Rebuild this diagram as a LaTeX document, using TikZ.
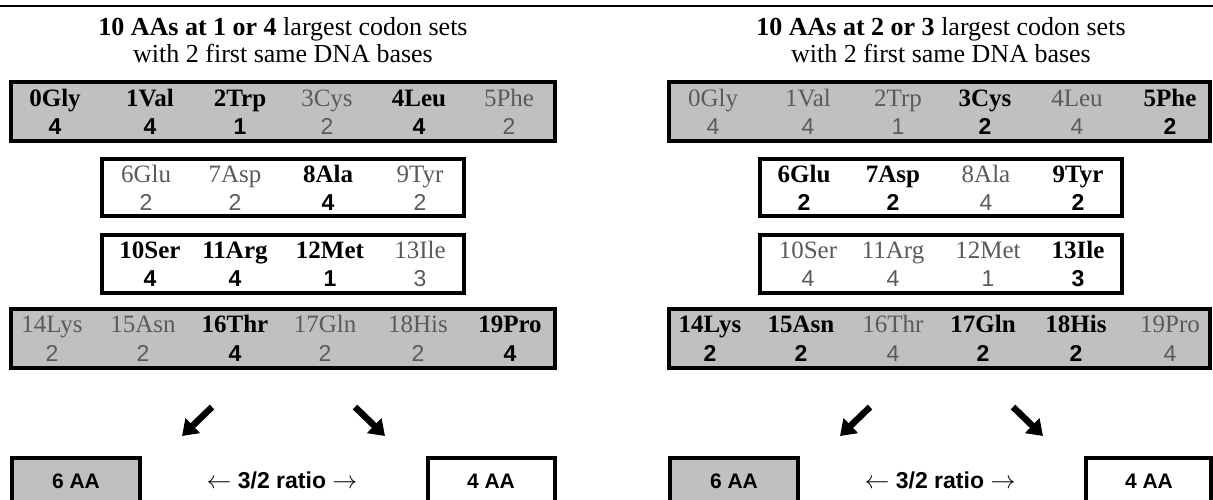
\documentclass[tikz,border=0pt]{standalone}
\usepackage{fontspec}
\setmainfont{Liberation Serif}
\newfontfamily\arialf{Liberation Sans}
\usetikzlibrary{arrows.meta}
\definecolor{boxgray}{RGB}{192,192,192}
\definecolor{dimtext}{RGB}{90,90,90}
\tikzset{
  x=1pt,y=-1pt,
  panelbox/.style={draw=black,line width=4pt},
  graybox/.style={panelbox,fill=boxgray},
  whitebox/.style={panelbox,fill=white},
  txt/.style={anchor=base,inner sep=0pt,outer sep=0pt},
  nmB/.style={txt,font=\fontsize{25}{25}\selectfont\bfseries},
  nmG/.style={txt,text=dimtext,font=\fontsize{25}{25}\selectfont},
  nuB/.style={txt,font=\arialf\fontsize{23}{23}\selectfont\bfseries},
  nuG/.style={txt,text=dimtext,font=\arialf\fontsize{23}{23}\selectfont},
  ttl/.style={txt,font=\fontsize{26}{26}\selectfont},
  bot/.style={txt,font=\arialf\fontsize{21}{21}\selectfont\bfseries},
  ratio/.style={txt,font=\arialf\fontsize{23}{23}\selectfont\bfseries},
  bigarrow/.style={line width=6.5pt,-{Triangle[length=15pt,width=20pt]}},
}
\begin{document}
\begin{tikzpicture}
\useasboundingbox (0,0) rectangle (1213,499);
\clip (0,0) rectangle (1213,499);
\draw[line width=2pt] (0,6) -- (1213,6);
% ---------------- left panel ----------------
\node[ttl] (Lt1) at (283,35) {\textbf{10 AAs at 1 or 4} largest codon sets};
\node[ttl] (Lt2) at (283,62) {with 2 first same DNA bases};
\draw[graybox] (11,82) rectangle (555,141);
\draw[whitebox] (102,159) rectangle (464,216);
\draw[whitebox] (102,235) rectangle (464,293);
\draw[graybox] (11,309) rectangle (555,368);
\foreach \x/\n/\v/\a/\b in {55/0Gly/4/nmB/nuB,150/1Val/4/nmB/nuB,240/2Trp/1/nmB/nuB,327/3Cys/2/nmG/nuG,419/4Leu/4/nmB/nuB,509/5Phe/2/nmG/nuG}{
  \node[\a] (L-\n) at (\x,106) {\n};
  \node[\b] (L-\n-c) at (\x,134) {\v};
}
\foreach \x/\n/\v/\a/\b in {146/6Glu/2/nmG/nuG,235/7Asp/2/nmG/nuG,328/8Ala/4/nmB/nuB,420/9Tyr/2/nmG/nuG}{
  \node[\a] (L-\n) at (\x,182) {\n};
  \node[\b] (L-\n-c) at (\x,210) {\v};
}
\foreach \x/\n/\v/\a/\b in {150/10Ser/4/nmB/nuB,235/11Arg/4/nmB/nuB,330/12Met/1/nmB/nuB,420/13Ile/3/nmG/nuG}{
  \node[\a] (L-\n) at (\x,258) {\n};
  \node[\b] (L-\n-c) at (\x,286) {\v};
}
\foreach \x/\n/\v/\a/\b in {52/14Lys/2/nmG/nuG,143/15Asn/2/nmG/nuG,235/16Thr/4/nmB/nuB,325/17Gln/2/nmG/nuG,418/18His/2/nmG/nuG,510/19Pro/4/nmB/nuB}{
  \node[\a] (L-\n) at (\x,332) {\n};
  \node[\b] (L-\n-c) at (\x,361) {\v};
}
\coordinate (La1s) at (212,407); \coordinate (La1e) at (182,436);
\coordinate (La2s) at (355,407); \coordinate (La2e) at (385,436);
\draw[bigarrow] (La1s) -- (La1e);
\draw[bigarrow] (La2s) -- (La2e);
\draw[graybox] (12,458) rectangle (140,510);
\draw[whitebox] (428,458) rectangle (555,510);
\node[bot] (L6) at (76,488) {6 AA};
\node[ratio] (Lr) at (282,488) {$\leftarrow$ 3/2 ratio $\rightarrow$};
\node[bot] (L4) at (491,488) {4 AA};
% ---------------- right panel ----------------
\begin{scope}[xshift=658pt]
\node[ttl] (Rt1) at (283,35) {\textbf{10 AAs at 2 or 3} largest codon sets};
\node[ttl] (Rt2) at (283,62) {with 2 first same DNA bases};
\draw[graybox] (11,82) rectangle (552,141);
\draw[whitebox] (102,159) rectangle (464,216);
\draw[whitebox] (102,235) rectangle (464,293);
\draw[graybox] (11,309) rectangle (552,368);
\foreach \x/\n/\v/\a/\b in {55/0Gly/4/nmG/nuG,150/1Val/4/nmG/nuG,240/2Trp/1/nmG/nuG,327/3Cys/2/nmB/nuB,419/4Leu/4/nmG/nuG,512/5Phe/2/nmB/nuB}{
  \node[\a] (R-\n) at (\x,106) {\n};
  \node[\b] (R-\n-c) at (\x,134) {\v};
}
\foreach \x/\n/\v/\a/\b in {146/6Glu/2/nmB/nuB,235/7Asp/2/nmB/nuB,328/8Ala/4/nmG/nuG,420/9Tyr/2/nmB/nuB}{
  \node[\a] (R-\n) at (\x,182) {\n};
  \node[\b] (R-\n-c) at (\x,210) {\v};
}
\foreach \x/\n/\v/\a/\b in {150/10Ser/4/nmG/nuG,235/11Arg/4/nmG/nuG,330/12Met/1/nmG/nuG,420/13Ile/3/nmB/nuB}{
  \node[\a] (R-\n) at (\x,258) {\n};
  \node[\b] (R-\n-c) at (\x,286) {\v};
}
\foreach \x/\n/\v/\a/\b in {52/14Lys/2/nmB/nuB,143/15Asn/2/nmB/nuB,235/16Thr/4/nmG/nuG,325/17Gln/2/nmB/nuB,418/18His/2/nmB/nuB,512/19Pro/4/nmG/nuG}{
  \node[\a] (R-\n) at (\x,332) {\n};
  \node[\b] (R-\n-c) at (\x,361) {\v};
}
\coordinate (Ra1s) at (212,407); \coordinate (Ra1e) at (182,436);
\coordinate (Ra2s) at (355,407); \coordinate (Ra2e) at (385,436);
\draw[bigarrow] (Ra1s) -- (Ra1e);
\draw[bigarrow] (Ra2s) -- (Ra2e);
\draw[graybox] (12,458) rectangle (140,510);
\draw[whitebox] (428,458) rectangle (553,510);
\node[bot] (R6) at (76,488) {6 AA};
\node[ratio] (Rr) at (282,488) {$\leftarrow$ 3/2 ratio $\rightarrow$};
\node[bot] (R4) at (491,488) {4 AA};
\end{scope}
\end{tikzpicture}
\end{document}
